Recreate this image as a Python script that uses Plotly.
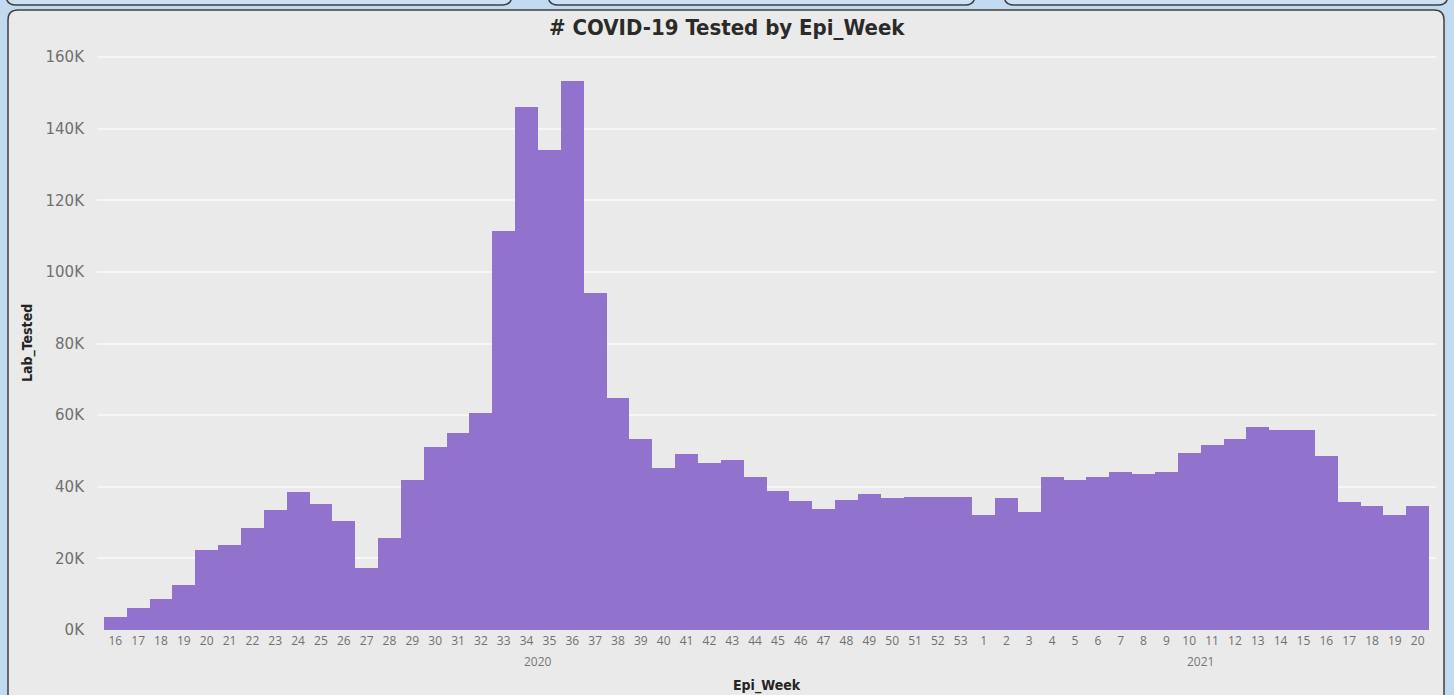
import plotly.graph_objects as go

weeks = [16, 17, 18, 19, 20, 21, 22, 23, 24, 25, 26, 27, 28, 29, 30, 31, 32, 33, 34, 35,
         36, 37, 38, 39, 40, 41, 42, 43, 44, 45, 46, 47, 48, 49, 50, 51, 52, 53,
         1, 2, 3, 4, 5, 6, 7, 8, 9, 10, 11, 12, 13, 14, 15, 16, 17, 18, 19, 20]
years = [2020] * 38 + [2021] * 20
lab_tested = [3600, 6100, 8700, 12600, 22300, 23700, 28500, 33500, 38500, 35200,
              30400, 17300, 25700, 41900, 51100, 55000, 60600, 111500, 146000, 134000,
              153400, 94100, 64800, 53400, 45300, 49200, 46600, 47500, 42700, 38800,
              36000, 33800, 36300, 38000, 36900, 37200, 37200, 37200,
              32100, 36900, 33000, 42700, 41900, 42700, 44100, 43600, 44100, 49400,
              51700, 53400, 56700, 55900, 55900, 48600, 35800, 34600, 32100, 34600]

xpos = list(range(len(weeks)))

W, H = 1454, 695
L, R, T, B = 97, 1436, 50, 630


def px(x):
    return (x - L) / (R - L)


def py(y):
    return (B - y) / (B - T)


fig = go.Figure(go.Bar(
    x=xpos, y=lab_tested,
    marker=dict(color="#9173CD", line=dict(width=0)),
    hovertemplate="%{y}<extra></extra>",
))

shapes = []
r = 10
x0, y0, x1, y1 = 8, 10, 1444, 720
path = (f"M {px(x0)},{py(y1)} L {px(x0)},{py(y0 + r)} "
        f"Q {px(x0)},{py(y0)} {px(x0 + r)},{py(y0)} "
        f"L {px(x1 - r)},{py(y0)} Q {px(x1)},{py(y0)} {px(x1)},{py(y0 + r)} "
        f"L {px(x1)},{py(y1)} Z")
shapes.append(dict(type="path", xref="paper", yref="paper", path=path,
                   fillcolor="#EAEAEA", line=dict(color="#404040", width=1.5), layer="below"))
for (a, b) in [(6, 512), (548, 975), (1004, 1448)]:
    rb = 10
    p = (f"M {px(a)},{py(-20)} L {px(a)},{py(5 - rb)} Q {px(a)},{py(5)} {px(a + rb)},{py(5)} "
         f"L {px(b - rb)},{py(5)} Q {px(b)},{py(5)} {px(b)},{py(5 - rb)} L {px(b)},{py(-20)} Z")
    shapes.append(dict(type="path", xref="paper", yref="paper", path=p,
                       fillcolor="#CCE1F5", line=dict(color="#404040", width=1.5), layer="below"))

annotations = [
    dict(text="<b># COVID-19 Tested by Epi_Week</b>", x=px(727), y=py(27),
         xref="paper", yref="paper", showarrow=False, xanchor="center", yanchor="middle",
         font=dict(family="DejaVu Sans Condensed", size=22, color="#2B2A29")),
    dict(text="<b>Lab_Tested</b>", x=px(27), y=py(343), textangle=-90,
         xref="paper", yref="paper", showarrow=False, xanchor="center", yanchor="middle",
         font=dict(family="DejaVu Sans Condensed", size=14, color="#252423")),
    dict(text="<b>Epi_Week</b>", x=px(767), y=py(685),
         xref="paper", yref="paper", showarrow=False, xanchor="center", yanchor="middle",
         font=dict(family="DejaVu Sans Condensed", size=14, color="#252423")),
]
for yr in sorted(set(years)):
    idx = [i for i, v in enumerate(years) if v == yr]
    annotations.append(dict(text=str(yr), x=sum(idx) / len(idx), y=py(661), xref="x", yref="paper",
                            showarrow=False, xanchor="center", yanchor="middle",
                            font=dict(family="Open Sans", size=12, color="#777777")))

fig.update_layout(
    width=W, height=H,
    paper_bgcolor="#C2DAF0",
    plot_bgcolor="rgba(0,0,0,0)",
    bargap=0,
    showlegend=False,
    margin=dict(l=L, r=W - R, t=T, b=H - B),
    shapes=shapes,
    annotations=annotations,
    xaxis=dict(
        range=[-0.8, len(weeks) - 0.2],
        tickmode="array", tickvals=xpos, ticktext=[str(w) for w in weeks],
        tickangle=0,
        tickfont=dict(family="Open Sans", size=12, color="#707070"),
        showgrid=False, zeroline=False, showline=False, ticks="",
        ticklabelstandoff=2,
    ),
    yaxis=dict(
        range=[0, 162000],
        tickvals=[0, 20000, 40000, 60000, 80000, 100000, 120000, 140000, 160000],
        ticktext=["0K", "20K", "40K", "60K", "80K", "100K", "120K", "140K", "160K"],
        tickfont=dict(family="DejaVu Sans", size=15, color="#707070"),
        showgrid=True, gridcolor="#F6F6F6", gridwidth=2,
        zeroline=False, showline=False, ticks="",
        ticklabelstandoff=12,
    ),
)

fig.write_html("out.html", config={"displayModeBar": False},
               post_script="document.body.style.margin='0';document.body.style.background='#C2DAF0';")
